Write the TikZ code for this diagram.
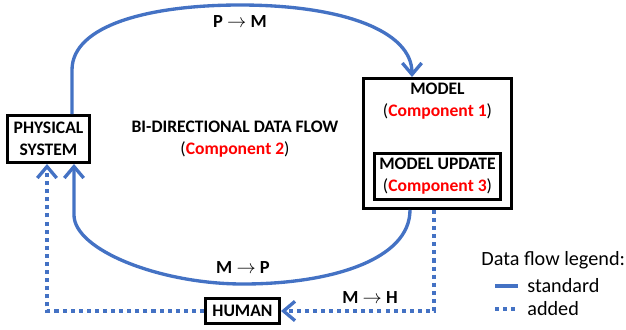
\documentclass[tikz,border=0pt]{standalone}
\usepackage{fontspec}
\setmainfont{Carlito}
\usetikzlibrary{arrows.meta}
\definecolor{flowblue}{RGB}{68,114,196}
\begin{document}
\begin{tikzpicture}[x=0.02cm, y=-0.02cm,
                box/.style={draw=black, line width=1.7pt, inner sep=0pt, align=center, font=\fontsize{10}{12.6}\selectfont\bfseries},
                txt/.style={inner sep=0pt, align=center, font=\fontsize{10}{12.6}\selectfont},
                lgd/.style={inner sep=0pt, anchor=west, font=\fontsize{11.5}{13}\selectfont},
                flow/.style={draw=flowblue, line width=1.9pt},
                added/.style={draw=flowblue, line width=1.9pt, dash pattern=on 2.3pt off 2.3pt},
                tip/.style={-{Straight Barb[length=6.5pt,width=11pt]}}]
                \useasboundingbox (0,0) rectangle (626,329);

                \node [box, minimum width=1.64cm, minimum height=0.94cm] (PS) at (48.5,139) {PHYSICAL\\SYSTEM};
                \node [box, minimum width=2.96cm, minimum height=2.6cm] (MO) at (437.5,143.5) {};
                \node [txt] (MOT) at (437.5,101) {\bfseries MODEL\\(\textcolor{red}{\bfseries Component 1})};
                \node [box, minimum width=2.52cm, minimum height=0.92cm] (MU) at (437.5,176.5) {MODEL UPDATE\\\mdseries(\textcolor{red}{\bfseries Component 3})};
                \node [box, minimum width=1.48cm, minimum height=0.5cm] (HU) at (242.5,311) {HUMAN};

                \node [txt] (BD) at (235,139) {\bfseries BI-DIRECTIONAL DATA FLOW\\(\textcolor{red}{\bfseries Component 2})};
                \node [txt, font=\fontsize{10.5}{12.6}\selectfont\bfseries] (PM) at (240,22) {P $\rightarrow$ M};
                \node [txt, font=\fontsize{10.5}{12.6}\selectfont\bfseries] (MP) at (243,268) {M $\rightarrow$ P};
                \node [txt, font=\fontsize{10.5}{12.6}\selectfont\bfseries] (MH) at (370,298) {M $\rightarrow$ H};

                \draw[flow, tip] (72,0 |- PS.north) -- (72,70) .. controls (72,25) and (150,5) .. (240,5) .. controls (340,5) and (412,30) .. (412,0 |- MO.north);
                \draw[flow, tip] (410,0 |- MO.south) .. controls (410,260) and (330,284) .. (243,284) .. controls (160,284) and (74,250) .. (74,215) -- (74,0 |- PS.south);
                \draw[added, tip] (434,0 |- MO.south) |- (HU.east);
                \draw[added, tip] (HU.west) -| (47,0 |- PS.south);

                \node [lgd] (LG) at (481,260) {Data flow legend:};
                \node [lgd] (LS) at (527,286) {standard};
                \node [lgd] (LA) at (527,309) {added};
                \draw[flow] (495,286) -- (518,286);
                \draw[added] (495,309) -- (518,309);
\end{tikzpicture}
\end{document}
